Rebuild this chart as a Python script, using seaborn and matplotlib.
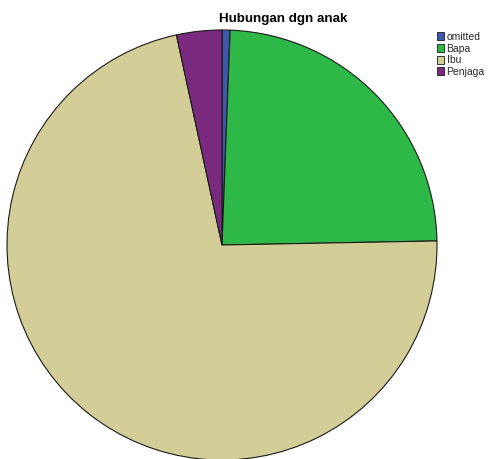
import matplotlib
matplotlib.use("Agg")
import matplotlib.pyplot as plt
import seaborn as sns
from matplotlib.patches import Patch

sns.set_theme(style="white")
plt.rcParams['font.family'] = ['Liberation Sans', 'DejaVu Sans']

categories = ["omitted", "Bapa", "Ibu", "Penjaga"]
values = [0.6, 24.1, 71.9, 3.4]
colors = ["#3E58AC", "#2EB848", "#D3CE97", "#7A2A7E"]
title = "Hubungan dgn anak"

W, H = 488, 459
fig = plt.figure(figsize=(W / 100, H / 100), dpi=100)
ax = fig.add_axes([0, 0, 1, 1])
cx, cy, r = 222, 245, 215

ax.pie(values, colors=colors, startangle=90, counterclock=False, radius=1.0,
       wedgeprops=dict(edgecolor="#1a1a1a", linewidth=0.8))
ax.set_xlim(-cx / r, (W - cx) / r)
ax.set_ylim((cy - H) / r, cy / r)
ax.set_aspect("auto")
ax.axis("off")

fig.text(283 / W, 1 - 19 / H, title, ha="center", va="center",
         fontsize=9.6, fontweight="bold", color="black")

handles = [Patch(facecolor=c, edgecolor="#1a1a1a", linewidth=0.6) for c in colors]
fig.legend(handles, categories, loc="upper left", bbox_to_anchor=(437 / W, 1 - 32 / H),
           frameon=False, fontsize=7.5, handlelength=0.67, handleheight=0.77,
           labelspacing=0.16, handletextpad=0.25, borderpad=0, borderaxespad=0)

fig.savefig("out.png", dpi=100)
